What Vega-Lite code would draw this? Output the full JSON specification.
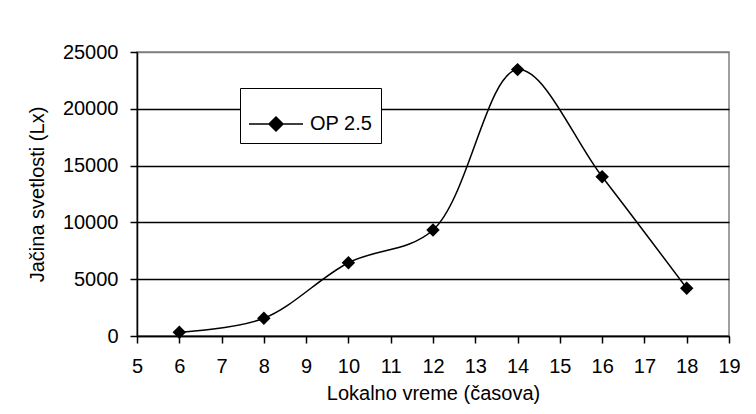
{
  "$schema": "https://vega.github.io/schema/vega-lite/v6.json",
  "autosize": {"type": "none"},
  "width": 592,
  "height": 284,
  "padding": {"left": 137, "top": 52, "right": 27, "bottom": 78},
  "background": "white",
  "config": {
    "font": "Liberation Sans",
    "view": {"stroke": "#808080", "strokeWidth": 1.5},
    "axis": {
      "labelFont": "Liberation Sans",
      "titleFont": "Liberation Sans",
      "labelFontSize": 20,
      "titleFontSize": 20,
      "titleFontWeight": "normal",
      "labelColor": "black",
      "titleColor": "black",
      "domainColor": "black",
      "domainWidth": 1.5,
      "tickColor": "black",
      "tickWidth": 1.5,
      "tickSize": 7
    },
    "legend": {
      "labelFont": "Liberation Sans",
      "labelFontSize": 20,
      "labelColor": "black"
    }
  },
  "data": {
    "values": [
      {"sat": 6, "lx": 330, "serija": "OP 2.5"},
      {"sat": 8, "lx": 1560, "serija": "OP 2.5"},
      {"sat": 10, "lx": 6450, "serija": "OP 2.5"},
      {"sat": 12, "lx": 9330, "serija": "OP 2.5"},
      {"sat": 14, "lx": 23450, "serija": "OP 2.5"},
      {"sat": 16, "lx": 14020, "serija": "OP 2.5"},
      {"sat": 18, "lx": 4200, "serija": "OP 2.5"}
    ]
  },
  "encoding": {
    "x": {
      "field": "sat",
      "type": "quantitative",
      "scale": {"domain": [5, 19], "nice": false, "zero": false},
      "axis": {
        "title": "Lokalno vreme (časova)",
        "values": [5, 6, 7, 8, 9, 10, 11, 12, 13, 14, 15, 16, 17, 18, 19],
        "grid": false,
        "labelPadding": 13,
        "titlePadding": 7,
        "labelFlush": false
      }
    },
    "y": {
      "field": "lx",
      "type": "quantitative",
      "scale": {"domain": [0, 25000], "nice": false},
      "axis": {
        "title": "Jačina svetlosti (Lx)",
        "values": [0, 5000, 10000, 15000, 20000, 25000],
        "format": "d",
        "grid": true,
        "gridColor": {"condition": {"test": "datum.value == 25000", "value": "#808080"}, "value": "black"},
        "gridWidth": 1.5,
        "gridOpacity": 1,
        "labelPadding": 12,
        "titlePadding": 15,
        "labelFlush": false
      }
    }
  },
  "layer": [
    {
      "mark": {"type": "line", "interpolate": "catmull-rom", "strokeWidth": 1.5},
      "encoding": {
        "color": {
          "field": "serija",
          "type": "nominal",
          "scale": {"range": ["black"]},
          "legend": {
            "title": null,
            "orient": "none",
            "legendX": 103,
            "legendY": 36,
            "strokeColor": "black",
            "fillColor": "white",
            "padding": 8,
            "symbolType": "M-1,0H1M0,-0.26L0.26,0L0,0.26L-0.26,0Z",
            "symbolSize": 2916,
            "symbolFillColor": "black",
            "symbolStrokeColor": "black",
            "symbolStrokeWidth": 1.5,
            "labelOffset": 6
          }
        }
      }
    },
    {
      "mark": {"type": "point", "shape": "diamond", "filled": true, "size": 180, "color": "black", "opacity": 1}
    }
  ]
}
